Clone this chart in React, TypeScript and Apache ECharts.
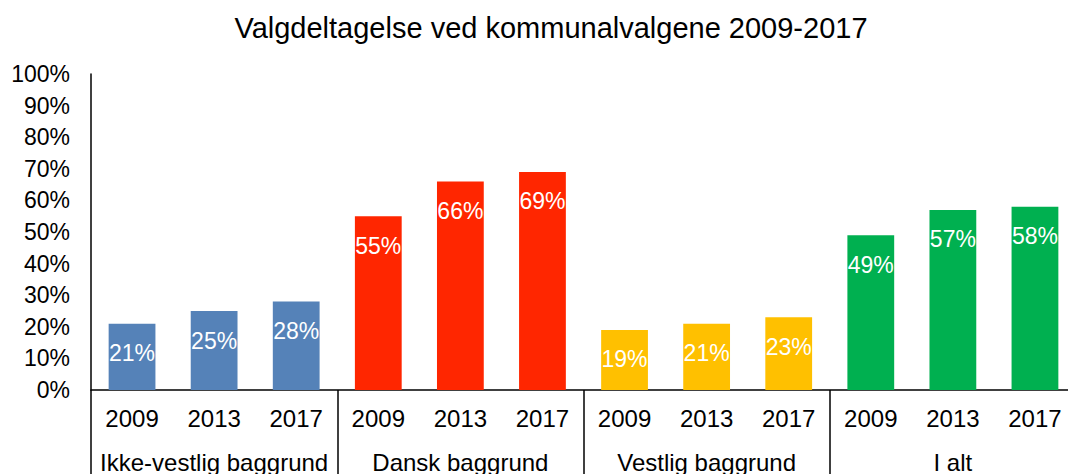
import React, { useEffect, useRef } from "react";
import * as echarts from "echarts";

const title = "Valgdeltagelse ved kommunalvalgene 2009-2017";
const years = ["2009", "2013", "2017", "2009", "2013", "2017", "2009", "2013", "2017", "2009", "2013", "2017"];
const groups = ["Ikke-vestlig baggrund", "Dansk baggrund", "Vestlig baggrund", "I alt"];
const ikkeVestlig = [21, 25, 28];
const dansk = [55, 66, 69];
const vestlig = [19, 21, 23];
const iAlt = [49, 57, 58];
const groupColors = ["#5582b8", "#ff2600", "#ffc000", "#00b050"];
const yTicks = [0, 10, 20, 30, 40, 50, 60, 70, 80, 90, 100];

const FONT = "'Liberation Sans', Arial, Helvetica, sans-serif";

export default function App() {
  const ref = useRef<HTMLDivElement>(null);
  useEffect(() => {
    if (!ref.current) return;
    const chart = echarts.init(ref.current, null, { renderer: "svg" });
    const groupValues = [ikkeVestlig, dansk, vestlig, iAlt];
    const data: any[] = [];
    groupValues.forEach((vals, gi) => {
      vals.forEach((v) => {
        data.push({ value: v, itemStyle: { color: groupColors[gi] } });
      });
    });
    chart.setOption({
      animation: false,
      title: {
        text: title,
        left: 546,
        textAlign: "center",
        top: 8,
        textStyle: { fontFamily: FONT, fontSize: 29, fontWeight: "normal", color: "#000" },
      },
      grid: { left: 91, right: 0, top: 74, bottom: 84, containLabel: false },
      xAxis: [
        {
          type: "category",
          data: years,
          position: "bottom",
          axisLine: { show: true, lineStyle: { color: "#000", width: 1.5 } },
          axisTick: { show: false },
          axisLabel: { fontFamily: FONT, fontSize: 24, color: "#000", margin: 16, interval: 0 },
        },
        {
          type: "category",
          data: groups,
          position: "bottom",
          axisLine: { show: false },
          axisTick: { show: true, interval: 0, length: 84, lineStyle: { color: "#000", width: 1.5 } },
          axisLabel: { fontFamily: FONT, fontSize: 24, color: "#000", margin: 60, interval: 0 },
        },
      ],
      yAxis: {
        type: "value",
        min: yTicks[0],
        max: yTicks[yTicks.length - 1],
        interval: 10,
        splitLine: { show: false },
        axisTick: { show: false },
        axisLine: { show: true, lineStyle: { color: "#000", width: 1.5 } },
        axisLabel: {
          fontFamily: FONT,
          fontSize: 23,
          color: "#000",
          margin: 21,
          formatter: "{value}%",
        },
      },
      series: [
        {
          type: "bar",
          xAxisIndex: 0,
          data,
          barWidth: "57%",
          label: {
            show: true,
            position: "insideTop",
            distance: 18,
            formatter: "{c}%",
            fontFamily: FONT,
            fontSize: 23,
            color: "#fff",
          },
        },
      ],
    });
    return () => chart.dispose();
  }, []);
  return (
    <div
      style={{ position: "absolute", left: 0, top: 0, width: 1068, height: 474, overflow: "hidden", background: "#fff" }}
    >
      <div ref={ref} style={{ width: 1076, height: 474 }} />
    </div>
  );
}
